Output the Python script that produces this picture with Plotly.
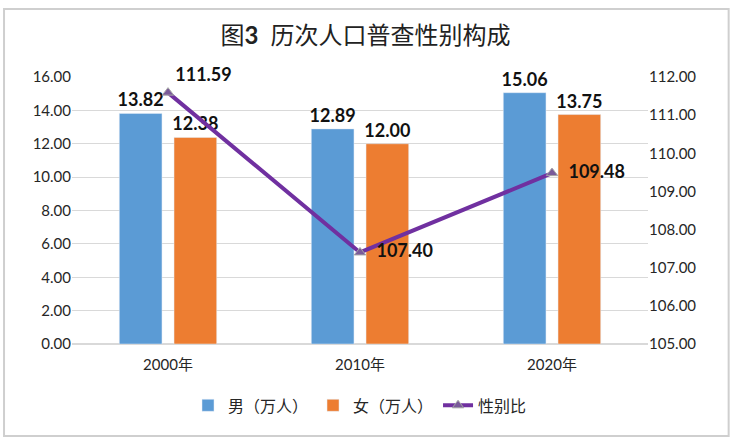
import plotly.graph_objects as go

# census years and values
years = ['2000年', '2010年', '2020年']
male = [13.82, 12.89, 15.06]      # 万人
female = [12.38, 12.00, 13.75]    # 万人
sex_ratio = [111.59, 107.40, 109.48]

left_ticks = [0, 2, 4, 6, 8, 10, 12, 14, 16]
right_ticks = [105, 106, 107, 108, 109, 110, 111, 112]

FONT = 'Lato, "Noto Sans CJK SC", sans-serif'
LABEL = dict(size=18, color='#111111', family=FONT)
PAD = '\u00a0\u00a0'

fig = go.Figure()

fig.add_trace(go.Bar(
    x=years, y=male, name='男（万人）',
    marker_color='#5B9BD5',
    text=['<b>%.2f</b>' % v for v in male], textposition='outside',
    textfont=LABEL, constraintext='none', cliponaxis=False,
))
fig.add_trace(go.Bar(
    x=years, y=female, name='女（万人）',
    marker_color='#ED7D31',
    text=['<b>%.2f</b>' % v for v in female], textposition='outside',
    textfont=LABEL, constraintext='none', cliponaxis=False,
))
fig.add_trace(go.Scatter(
    x=years, y=sex_ratio, name='性别比', yaxis='y2',
    mode='lines+markers+text',
    line=dict(color='#7030A0', width=4),
    marker=dict(symbol='triangle-up', size=10, color='#7A5A9A',
                line=dict(color='#A6A6A6', width=1)),
    text=['<b>%.2f</b>' % sex_ratio[0]] +
         [PAD + '<b>%.2f</b>' % v for v in sex_ratio[1:]],
    textposition=['top right', 'middle right', 'middle right'],
    textfont=LABEL,
    cliponaxis=False,
))

fig.update_layout(
    width=731, height=441,
    margin=dict(l=72, r=83, t=77, b=97),
    paper_bgcolor='white', plot_bgcolor='white',
    font=dict(family=FONT, size=15, color='#262626'),
    title=dict(text='图<b>3</b>  历次人口普查性别构成', x=0.5, xanchor='center',
               y=0.92, yanchor='middle',
               font=dict(size=24, color='#222222', family=FONT)),
    barmode='group', bargap=0.43, bargroupgap=0.22,
    xaxis=dict(showline=False, ticks='', tickfont=dict(size=15),
               ticklabelstandoff=10),
    yaxis=dict(range=[0, 16], tickvals=left_ticks, tickformat='.2f',
               showgrid=True, gridcolor='#D9D9D9', gridwidth=1,
               zeroline=True, zerolinecolor='#D9D9D9', ticks='',
               tickfont=dict(size=15)),
    yaxis2=dict(range=[105, 112], tickvals=right_ticks, tickformat='.2f',
                overlaying='y', side='right', showgrid=False,
                zeroline=False, ticks='', tickfont=dict(size=15)),
    legend=dict(orientation='h', x=0.5, xanchor='center', y=-0.23,
                yanchor='middle', font=dict(size=16),
                traceorder='normal'),
    showlegend=True,
    shapes=[dict(type='rect', xref='paper', yref='paper', layer='above',
                 x0=-0.118, x1=1.14, y0=-0.345, y1=1.255,
                 line=dict(color='#CFCFCF', width=2))],
)

fig.write_html("out.html", config={'displayModeBar': False},
               post_script="document.body.style.margin='0';")
